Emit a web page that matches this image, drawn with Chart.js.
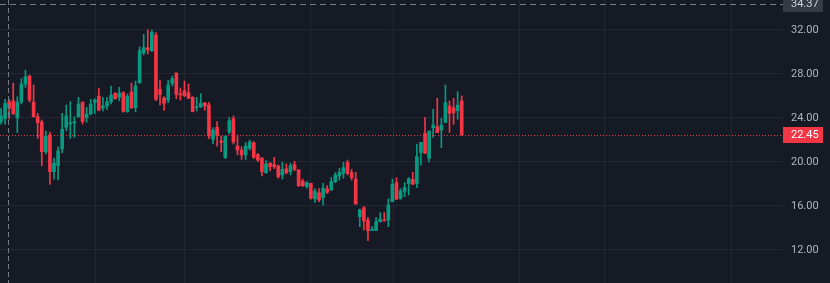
<!DOCTYPE html>
<html>
<head>
<meta charset="utf-8">
<script src="https://cdn.jsdelivr.net/npm/chart.js@4/dist/chart.umd.min.js"></script>
<style>
  html, body { margin: 0; padding: 0; background: #161a25; overflow: hidden; }
  canvas { display: block; }
</style>
</head>
<body>
<canvas id="c" width="830" height="283"></canvas>
<script>
// ---- data ----
const opens = [23.64,23.94,25.48,25.55,24.00,25.45,27.09,27.82,25.45,24.12,
  23.64,20.91,22.45,19.12,19.67,21.18,23.15,23.45,23.55,24.12,
  25.45,24.03,24.36,25.42,25.97,24.91,25.09,25.48,26.24,25.88,
  26.30,24.58,26.36,24.94,27.21,29.94,30.39,30.12,31.52,26.61,
  25.82,25.64,27.15,28.09,26.21,26.48,26.30,25.88,24.94,25.03,
  25.36,25.18,22.06,23.15,21.91,20.39,22.73,23.94,21.45,21.09,
  20.64,21.24,21.76,20.67,20.33,19.03,19.91,19.76,19.64,18.82,
  19.39,19.12,19.76,19.27,18.27,17.76,18.06,16.64,17.21,16.76,
  17.55,17.48,18.21,18.73,18.97,19.97,19.03,18.45,15.03,15.85,
  14.73,13.76,13.76,14.58,14.73,14.73,16.39,18.12,16.70,17.33,
  18.03,18.42,18.06,20.85,22.61,20.33,23.12,23.21,22.91,23.58,
  25.09,24.94,24.67,25.55];
const highs = [24.88,25.70,25.70,27.18,25.94,27.58,28.36,27.90,27.00,24.42,
  23.82,22.82,22.73,20.33,21.39,24.42,25.18,25.48,24.12,25.88,
  25.45,24.97,25.70,25.76,26.67,25.88,25.88,26.91,26.30,26.79,
  26.39,26.18,27.18,27.36,30.48,31.61,32.00,32.00,31.76,27.45,
  25.94,27.42,27.82,28.09,26.73,27.36,27.09,25.94,25.88,26.21,
  25.42,25.42,23.12,23.67,22.36,22.36,24.06,24.18,22.45,21.39,
  21.76,22.00,21.85,20.79,20.42,20.12,19.91,20.42,19.73,19.97,
  19.82,19.88,20.06,19.33,18.45,18.21,18.06,17.58,17.58,18.06,
  17.85,18.58,19.03,19.42,19.97,20.18,19.33,19.06,15.73,15.94,
  14.97,14.12,14.94,15.39,15.39,16.64,18.45,18.58,17.58,18.12,
  18.58,19.06,21.61,21.79,24.06,22.82,24.79,25.79,23.97,27.00,
  25.55,25.79,26.39,26.00];
const lows = [23.45,23.45,23.90,24.36,22.67,25.27,26.79,25.45,24.06,22.15,
  19.67,20.73,17.97,18.45,18.36,20.85,22.85,22.15,22.24,24.06,
  23.45,23.61,24.30,24.42,24.64,24.64,24.79,25.27,25.70,25.55,
  24.52,24.52,24.85,24.58,27.15,29.73,29.82,30.03,25.58,25.18,
  24.70,25.39,26.91,25.76,25.64,25.94,25.76,24.55,24.64,24.94,
  24.70,22.12,21.64,21.45,20.94,20.33,22.55,21.64,20.64,20.24,
  20.24,21.09,20.33,20.03,18.73,18.97,19.18,19.39,18.52,18.45,
  18.91,18.82,19.21,17.76,17.76,17.61,16.61,16.33,16.39,16.09,
  17.15,17.39,18.12,18.36,18.52,18.82,18.36,16.18,14.12,13.82,
  12.85,13.76,13.76,14.52,14.64,14.12,16.39,16.61,16.61,16.85,
  17.00,17.97,17.67,19.73,20.79,20.00,22.24,22.67,21.30,23.58,
  22.67,23.42,23.88,22.45];
const closes = [24.18,25.33,24.88,24.36,25.45,27.09,27.76,25.64,24.12,23.58,
  20.94,22.36,19.12,19.88,21.00,22.97,24.18,23.58,23.67,25.27,
  23.67,24.36,25.27,25.64,24.73,25.09,25.48,26.06,25.76,26.27,
  24.60,25.97,24.94,26.91,30.12,30.39,30.18,31.79,25.70,26.15,
  25.33,27.00,27.58,26.15,26.09,26.03,25.79,24.60,25.03,25.36,
  25.09,22.36,22.91,22.42,21.79,22.36,23.76,21.82,21.09,20.64,
  21.45,21.82,20.42,20.18,19.12,19.82,19.58,19.58,18.67,19.33,
  19.03,19.67,19.33,17.85,17.85,18.12,16.70,17.36,16.55,17.61,
  17.24,18.21,18.82,19.06,19.48,18.97,18.58,16.18,15.64,14.64,
  13.76,13.88,14.58,14.82,14.64,16.09,17.97,16.61,17.36,17.67,
  18.48,17.97,20.48,21.79,20.79,22.82,23.36,22.67,23.36,25.39,
  24.42,24.48,25.18,22.45];
const priceTicks = [12, 16, 20, 24, 28, 32];
const timeGridIdx = [23.3, 44.9, 75.8, 96.2, 127.1, 147.9, 179.1];
const lastPrice = 22.45;
const crossPrice = 34.37;
const crossIdx = 2;

// ---- styling ----
const UP = '#089981', DOWN = '#f23645';
const BG = '#161a25', GRID = '#232733', TXT = '#b2b5be';
const FONT = '11px Roboto, "Liberation Sans", sans-serif';

const idx = opens.map((_, i) => i);
const colors = idx.map(i => closes[i] >= opens[i] ? UP : DOWN);

const zeroPad = s => { s.paddingTop = 0; s.paddingBottom = 0; s.paddingLeft = 0; s.paddingRight = 0; };

const overlay = {
  id: 'overlay',
  beforeDraw(chart) {
    const { ctx } = chart;
    ctx.save();
    ctx.fillStyle = BG;
    ctx.fillRect(0, 0, chart.width, chart.height);
    ctx.restore();
  },
  afterDatasetsDraw(chart) {
    const { ctx, chartArea: a, scales: { x, y } } = chart;
    ctx.save();
    // last price dotted line
    const yl = Math.round(y.getPixelForValue(lastPrice)) + 0.5;
    ctx.strokeStyle = DOWN; ctx.lineWidth = 1; ctx.setLineDash([1, 2]);
    ctx.beginPath(); ctx.moveTo(a.left, yl); ctx.lineTo(a.right, yl); ctx.stroke();
    // crosshair
    ctx.strokeStyle = '#787b86'; ctx.setLineDash([6, 4]);
    const yc = Math.round(y.getPixelForValue(crossPrice)) + 0.5;
    ctx.beginPath(); ctx.moveTo(a.left, yc); ctx.lineTo(a.right, yc); ctx.stroke();
    const xc = Math.round(x.getPixelForValue(crossIdx)) - 0.5;
    ctx.setLineDash([5, 3]);
    ctx.beginPath(); ctx.moveTo(xc, a.top); ctx.lineTo(xc, a.bottom); ctx.stroke();
    ctx.restore();
  },
  afterDraw(chart) {
    const { ctx, chartArea: a, scales: { y } } = chart;
    ctx.save();
    ctx.font = FONT; ctx.textBaseline = 'middle'; ctx.textAlign = 'left';
    const drawBox = (v, bg, fg) => {
      const py = y.getPixelForValue(v);
      ctx.fillStyle = bg;
      ctx.fillRect(a.right, Math.round(py) - 8, 40, 16);
      ctx.fillStyle = fg;
      ctx.fillText(v.toFixed(2), a.right + 8, py + 0.5);
    };
    drawBox(lastPrice, DOWN, '#ffffff');
    drawBox(crossPrice, '#363a45', '#d1d4dc');
    ctx.restore();
  }
};

new Chart(document.getElementById('c'), {
  type: 'bar',
  data: {
    datasets: [
      {
        label: 'body',
        order: 0,
        data: idx.map(i => ({ x: i, y: [opens[i], closes[i]] })),
        backgroundColor: colors,
        barThickness: 3,
        minBarLength: 1,
        borderWidth: 0,
        grouped: false
      },
      {
        label: 'wick',
        order: 1,
        data: idx.map(i => ({ x: i, y: [lows[i], highs[i]] })),
        backgroundColor: colors,
        barThickness: 1,
        borderWidth: 0,
        grouped: false
      }
    ]
  },
  options: {
    responsive: false,
    animation: false,
    devicePixelRatio: 1,
    layout: { padding: 0 },
    plugins: { legend: { display: false }, tooltip: { enabled: false } },
    scales: {
      x: {
        type: 'linear',
        min: -0.245,
        max: 191.8,
        offset: false,
        grid: { color: GRID, drawTicks: false, offset: false },
        border: { display: false },
        ticks: { display: false },
        afterBuildTicks: s => { s.ticks = timeGridIdx.map(v => ({ value: v })); },
        afterFit: s => { s.height = 0; zeroPad(s); }
      },
      y: {
        position: 'right',
        min: 9.0,
        max: 34.727,
        grid: { color: GRID, drawTicks: false },
        border: { display: false },
        ticks: {
          color: TXT,
          font: { family: 'Roboto, "Liberation Sans", sans-serif', size: 11 },
          padding: 8,
          callback: v => Number(v).toFixed(2)
        },
        afterBuildTicks: s => { s.ticks = priceTicks.map(v => ({ value: v })); },
        afterFit: s => { s.width = 47; zeroPad(s); }
      }
    }
  },
  plugins: [overlay]
});
</script>
</body>
</html>
